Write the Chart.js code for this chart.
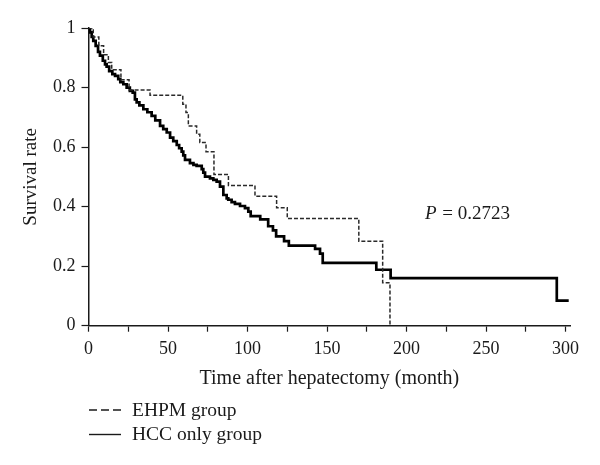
<!DOCTYPE html>
<html>
<head>
<meta charset="utf-8">
<script src="https://cdn.jsdelivr.net/npm/chart.js@4"></script>
<style>
  html, body { margin: 0; padding: 0; background: #fff; }
  #wrap { width: 600px; height: 465px; }
</style>
</head>
<body>
<div id="wrap"><canvas id="km" width="600" height="465"></canvas></div>
<script>
// Kaplan-Meier steps: month of each drop and survival after it
const ehpmMonths   = [0, 3, 6.5, 9.5, 12.5, 14.6, 20.4, 25.5, 38.7, 59.3, 61.3, 62.8, 68, 70, 73.9, 78.9, 88, 104.7, 118.3, 125, 170, 185, 189.6];
const ehpmSurvival = [1, 0.97, 0.94, 0.91, 0.884, 0.86, 0.826, 0.792, 0.774, 0.744, 0.716, 0.671, 0.643, 0.615, 0.584, 0.508, 0.471, 0.435, 0.396, 0.36, 0.284, 0.144, 0];

const hccMonths   = [0, 1, 2, 3, 4.5, 6, 7.2, 9, 10.4, 11.4, 13, 15, 16.7, 18.7, 20, 21.9, 24, 26, 27.8, 29.2, 30.3, 32, 34.5, 37, 39.7,
                     42, 45, 47, 49.2, 51.3, 53.3, 55.5, 57, 58.6, 59.6, 60.7, 63.8, 66, 68, 71.2, 72.2, 73.3, 76.4, 78.5, 80.6, 82.7,
                     84.8, 86.9, 87.9, 90, 92.1, 95.3, 98.4, 100.5, 102, 108, 113, 116, 118, 123, 126, 142.5, 145.6, 147.3, 181, 190, 294.5, 302];
const hccSurvival = [1, 0.985, 0.97, 0.957, 0.94, 0.92, 0.907, 0.89, 0.878, 0.87, 0.855, 0.845, 0.839, 0.828, 0.818, 0.811, 0.8, 0.789, 0.783, 0.76, 0.75, 0.74, 0.727, 0.717, 0.705,
                     0.69, 0.671, 0.66, 0.649, 0.632, 0.62, 0.607, 0.596, 0.585, 0.572, 0.557, 0.546, 0.54, 0.537, 0.526, 0.514, 0.501, 0.495, 0.49, 0.484, 0.467,
                     0.439, 0.428, 0.423, 0.415, 0.409, 0.402, 0.395, 0.383, 0.368, 0.357, 0.334, 0.32, 0.3, 0.284, 0.269, 0.258, 0.242, 0.211, 0.188, 0.16, 0.084, 0.084];

const seriesLabels = ['EHPM group', 'HCC only group'];
const yTicks = [0, 0.2, 0.4, 0.6, 0.8, 1];
const pValueText = '0.2723';
const pValueAt = { month: 211.6, survival: 0.358 };

const SERIF = '"Liberation Serif", "Times New Roman", serif';
const INK = '#1a1a1a';

const toPoints = (xs, ys) => xs.map((x, i) => ({ x, y: ys[i] }));

/* ── Legend + P value drawn on the canvas ─────────────────────────── */
const extrasPlugin = {
    id: 'extras',
    afterDraw(chart) {
        const { ctx, scales } = chart;
        ctx.save();
        ctx.fillStyle = INK;
        ctx.strokeStyle = INK;

        // P = 0.2723
        const px = scales.x.getPixelForValue(pValueAt.month);
        const py = scales.y.getPixelForValue(pValueAt.survival);
        ctx.textBaseline = 'alphabetic';
        ctx.textAlign = 'left';
        ctx.font = 'italic 19px ' + SERIF;
        ctx.fillText('P', px, py);
        let cx = px + ctx.measureText('P').width;
        ctx.font = '19px ' + SERIF;
        ctx.fillText(' = ' + pValueText, cx + 1, py);

        // legend rows
        const rows = [
            { y: 410, base: 416, dash: [8, 4] },
            { y: 434.5, base: 440, dash: [] }
        ];
        chart.data.datasets.forEach((ds, i) => {
            const r = rows[i];
            ctx.lineWidth = 1.4;
            ctx.setLineDash(r.dash);
            ctx.beginPath();
            ctx.moveTo(89, r.y);
            ctx.lineTo(121, r.y);
            ctx.stroke();
            ctx.setLineDash([]);
            ctx.font = '19.5px ' + SERIF;
            ctx.fillText(ds.label, 132, r.base);
        });
        ctx.restore();
    }
};

new Chart(document.getElementById('km'), {
    type: 'line',
    data: {
        datasets: [
            {
                label: seriesLabels[0],
                data: toPoints(ehpmMonths, ehpmSurvival),
                stepped: 'before',
                borderColor: '#2a2a2a',
                borderWidth: 1.5,
                borderDash: [4, 2],
                pointRadius: 0,
                fill: false
            },
            {
                label: seriesLabels[1],
                data: toPoints(hccMonths, hccSurvival),
                stepped: 'before',
                borderColor: '#000',
                borderWidth: 2.7,
                pointRadius: 0,
                fill: false
            }
        ]
    },
    options: {
        responsive: false,
        animation: false,
        layout: { padding: { top: 28, left: 0, right: 29.7, bottom: 74 } },
        plugins: {
            legend: { display: false },
            tooltip: { enabled: false }
        },
        scales: {
            x: {
                type: 'linear',
                min: 0,
                max: 303,
                afterFit: s => { s.height = 65.3; },
                border: { display: true, color: INK, width: 1.5 },
                grid: { drawOnChartArea: false, drawTicks: true, tickLength: 6, tickWidth: 1.2, tickColor: INK },
                ticks: {
                    stepSize: 25,
                    includeBounds: false,
                    maxRotation: 0,
                    autoSkip: false,
                    padding: 7,
                    color: INK,
                    font: { family: SERIF, size: 18 },
                    callback: v => (v % 50 === 0 ? String(v) : '')
                },
                title: {
                    display: true,
                    text: 'Time after hepatectomy (month)',
                    color: INK,
                    font: { family: SERIF, size: 20 },
                    padding: { top: 0, bottom: 0 }
                }
            },
            y: {
                min: 0,
                max: 1,
                afterFit: s => { s.width = 88.5; },
                afterBuildTicks: s => { s.ticks = yTicks.map(v => ({ value: v })); },
                border: { display: true, color: INK, width: 1.5 },
                grid: { drawOnChartArea: false, drawTicks: true, tickLength: 7, tickWidth: 1.2, tickColor: INK },
                ticks: {
                    padding: 6,
                    color: INK,
                    font: { family: SERIF, size: 18 },
                    callback: v => String(v)
                },
                title: {
                    display: true,
                    text: 'Survival rate',
                    color: INK,
                    font: { family: SERIF, size: 19 },
                    padding: { top: 20, bottom: 0 }
                }
            }
        }
    },
    plugins: [extrasPlugin]
});
</script>
</body>
</html>
